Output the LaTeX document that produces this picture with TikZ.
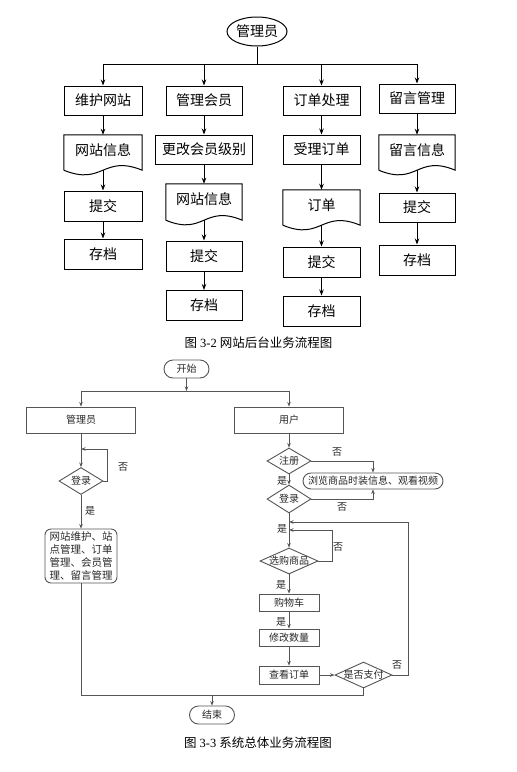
\documentclass[tikz,border=0pt]{standalone}
\usepackage{fontspec}
\setmainfont{Liberation Serif}
\newfontfamily\cjk{Noto Sans CJK SC}
\usetikzlibrary{arrows.meta,shapes.geometric,shapes.misc,calc}
\definecolor{bcol}{RGB}{85,85,85}
\definecolor{btxt}{RGB}{40,40,40}
\tikzset{
  tline/.style={draw=black, line width=1pt},
  tarrow/.style={tline, -{Stealth[length=6pt,width=4.5pt]}},
  tbox/.style={draw=black, line width=1pt, rectangle, minimum height=29pt, inner sep=0pt,
    font=\cjk\fontsize{14}{16}\selectfont},
  tdoc/.style={rectangle, draw=none, inner sep=0pt},
  tell/.style={ellipse, draw=black, line width=1pt, minimum width=60pt, minimum height=29pt,
    inner sep=0pt, font=\cjk\fontsize{14}{16}\selectfont},
  bline/.style={draw=bcol, line width=0.9pt},
  barrow/.style={bline, -{Stealth[length=4.5pt,width=3.5pt]}},
  bbox/.style={draw=bcol, line width=0.9pt, rectangle, inner sep=0pt, text=btxt,
    font=\cjk\fontsize{10}{12}\selectfont},
  bround/.style={bbox, rounded corners=6pt},
  bterm/.style={bbox, rounded rectangle, minimum width=45pt, minimum height=18pt},
  bdia/.style={draw=bcol, line width=0.9pt, diamond, inner sep=0pt},
  blab/.style={text=btxt, inner sep=0pt, font=\cjk\fontsize{10}{12}\selectfont},
  capt/.style={inner sep=0pt, font=\fontsize{12.5}{14}\selectfont}
}
\newcommand{\docwave}[1]{%
  \draw[tline] (#1.south west) -- (#1.north west) -- (#1.north east) -- (#1.south east)
    .. controls ($(#1.south)+(0,-16)$) and ($(#1.south)+(0,16)$) .. (#1.south west);}
\begin{document}
\begin{tikzpicture}[x=1pt,y=-1pt]
\useasboundingbox (0,0) rectangle (517,772);
\fill[white] (0,0) rectangle (517,772);

% ===== Figure 3-2 =====
\node[tell] (adm) at (257,31.5) {管理员};
\coordinate (hl) at (257,64);
\node[tbox, minimum width=78pt] (a1) at (103,100.5) {维护网站};
\node[tbox, minimum width=76pt] (a2) at (204,100.5) {管理会员};
\node[tbox, minimum width=77pt] (a3) at (321.5,100.5) {订单处理};
\node[tbox, minimum width=76pt] (a4) at (417,98.5) {留言管理};
\draw[tline] (adm.south) -- (hl);
\draw[tline] (a1.north |- hl) -- (a4.north |- hl);
\foreach \n in {a1,a2,a3,a4} \draw[tarrow] (\n.north |- hl) -- (\n.north);

% column 1
\node[tdoc, minimum width=78pt, minimum height=35pt,
  label={[font=\cjk\fontsize{14}{16}\selectfont, yshift=2.5pt]center:网站信息}] (b1) at (103,152.5) {};
\docwave{b1}
\node[tbox, minimum width=78pt, minimum height=30pt] (c1) at (103,206) {提交};
\node[tbox, minimum width=78pt, minimum height=30pt] (d1) at (103,254) {存档};
\draw[tarrow] (a1.south) -- (b1.north);
\draw[tarrow] (b1.south) -- (c1.north);
\draw[tarrow] (c1.south) -- (d1.north);

% column 2
\node[tbox, minimum width=97pt] (b2) at (204,149.5) {更改会员级别};
\node[tdoc, minimum width=76pt, minimum height=36pt,
  label={[font=\cjk\fontsize{14}{16}\selectfont, yshift=3pt]center:网站信息}] (c2) at (204,202) {};
\docwave{c2}
\node[tbox, minimum width=76pt, minimum height=30pt] (d2) at (204,256) {提交};
\node[tbox, minimum width=76pt, minimum height=30pt] (e2) at (204,305.5) {存档};
\draw[tarrow] (a2.south) -- (b2.north);
\draw[tarrow] (b2.south) -- (c2.north);
\draw[tarrow] (c2.south) -- (d2.north);
\draw[tarrow] (d2.south) -- (e2.north);

% column 3
\node[tbox, minimum width=77pt] (b3) at (321.5,149.5) {受理订单};
\node[tdoc, minimum width=77pt, minimum height=35pt,
  label={[font=\cjk\fontsize{14}{16}\selectfont, yshift=2.5pt]center:订单}] (c3) at (321.5,207.5) {};
\docwave{c3}
\node[tbox, minimum width=77pt, minimum height=30pt] (d3) at (321.5,262) {提交};
\node[tbox, minimum width=77pt, minimum height=30pt] (e3) at (321.5,311) {存档};
\draw[tarrow] (a3.south) -- (b3.north);
\draw[tarrow] (b3.south) -- (c3.north);
\draw[tarrow] (c3.south) -- (d3.north);
\draw[tarrow] (d3.south) -- (e3.north);

% column 4
\node[tdoc, minimum width=76pt, minimum height=35pt,
  label={[font=\cjk\fontsize{14}{16}\selectfont, yshift=2.5pt]center:留言信息}] (b4) at (417,152.5) {};
\docwave{b4}
\node[tbox, minimum width=76pt, minimum height=29pt] (c4) at (417,207.5) {提交};
\node[tbox, minimum width=76pt, minimum height=30pt] (d4) at (417,260) {存档};
\draw[tarrow] (a4.south) -- (b4.north);
\draw[tarrow] (b4.south) -- (c4.north);
\draw[tarrow] (c4.south) -- (d4.north);

\node[capt] (cap1) at (258.5,343) {{\cjk 图} 3-2 {\cjk 网站后台业务流程图}};

% ===== Figure 3-3 =====
\node[bterm] (start) at (186.5,369) {开始};
\coordinate (j0) at (186.5,391);
\node[bbox, minimum width=109pt, minimum height=26pt] (mgr) at (81,420) {管理员};
\node[bbox, minimum width=109pt, minimum height=26pt] (usr) at (289,420) {用户};
\draw[barrow] (start.south) -- (j0);
\draw[bline] (mgr.north |- j0) -- (usr.north |- j0);
\draw[barrow] (mgr.north |- j0) -- (mgr.north);
\draw[barrow] (usr.north |- j0) -- (usr.north);

% admin branch
\node[bdia, minimum width=44pt, minimum height=27pt,
  label={[blab]center:登录}] (dl) at (81,481) {};
\coordinate (dlback) at (81,449);
\draw[barrow] (mgr.south) -- (dl.north);
\draw[barrow] (dl.east) -- ++(4,0) |- (dlback);
\node[blab] (no1) at (123,467) {否};
\node[blab] (yes1) at (90,511) {是};
\node[bround, minimum width=72pt, minimum height=54pt, align=center,
  font=\cjk\fontsize{10.5}{13}\selectfont] (adm2) at (81,556)
  {网站维护、站\\点管理、订单\\管理、会员管\\理、留言管理};
\draw[barrow] (dl.south) -- (adm2.north);

% user branch
\node[bdia, minimum width=44pt, minimum height=26pt,
  label={[blab]center:注册}] (reg) at (289,461) {};
\node[bbox, rounded rectangle, minimum width=140pt, minimum height=16pt] (browse) at (373,481)
  {浏览商品时装信息、观看视频};
\node[bdia, minimum width=44pt, minimum height=28pt,
  label={[blab]center:登录}] (login) at (289,499) {};
\draw[barrow] (usr.south) -- (reg.north);
\draw[barrow] (reg.east) -| (browse.north);
\draw[barrow] (reg.south) -- (login.north);
\draw[barrow] (login.east) -| (browse.south);
\node[blab] (no2) at (337,452) {否};
\node[blab] (yes2) at (282,481) {是};
\node[blab] (no3) at (342,507) {否};

\node[bdia, minimum width=58pt, minimum height=26pt,
  label={[blab]center:选购商品}] (buy) at (289,561) {};
\coordinate (back1) at (289,522);
\coordinate (back2) at (289,530);
\draw[barrow] (login.south) -- (buy.north);
\draw[barrow] (buy.east) -- ++(14,0) |- (back2);
\node[blab] (yes3) at (282,529) {是};
\node[blab] (no4) at (338,547) {否};

\node[bbox, minimum width=60pt, minimum height=17pt] (cart) at (289,602.5) {购物车};
\node[bbox, minimum width=60pt, minimum height=17pt] (mod) at (289,637.5) {修改数量};
\node[bbox, minimum width=60pt, minimum height=18pt] (view) at (289,675) {查看订单};
\node[bdia, minimum width=57pt, minimum height=26pt,
  label={[blab]center:是否支付}] (pay) at (363.5,675) {};
\draw[barrow] (buy.south) -- (cart.north);
\draw[barrow] (cart.south) -- (mod.north);
\draw[barrow] (mod.south) -- (view.north);
\draw[barrow] (view.east) -- (pay.west);
\draw[barrow] (pay.east) -- ++(16,0) |- (back1);
\node[blab] (yes4) at (281,585) {是};
\node[blab] (yes5) at (281,622) {是};
\node[blab] (no5) at (397,665) {否};

% end
\coordinate (jb) at (212,695);
\node[bterm] (fin) at (212,715) {结束};
\draw[bline] (adm2.south) |- (pay.south |- jb) -- (pay.south);
\draw[barrow] (jb) -- (fin.north);

\node[capt] (cap2) at (258,743) {{\cjk 图} 3-3 {\cjk 系统总体业务流程图}};
\end{tikzpicture}
\end{document}
